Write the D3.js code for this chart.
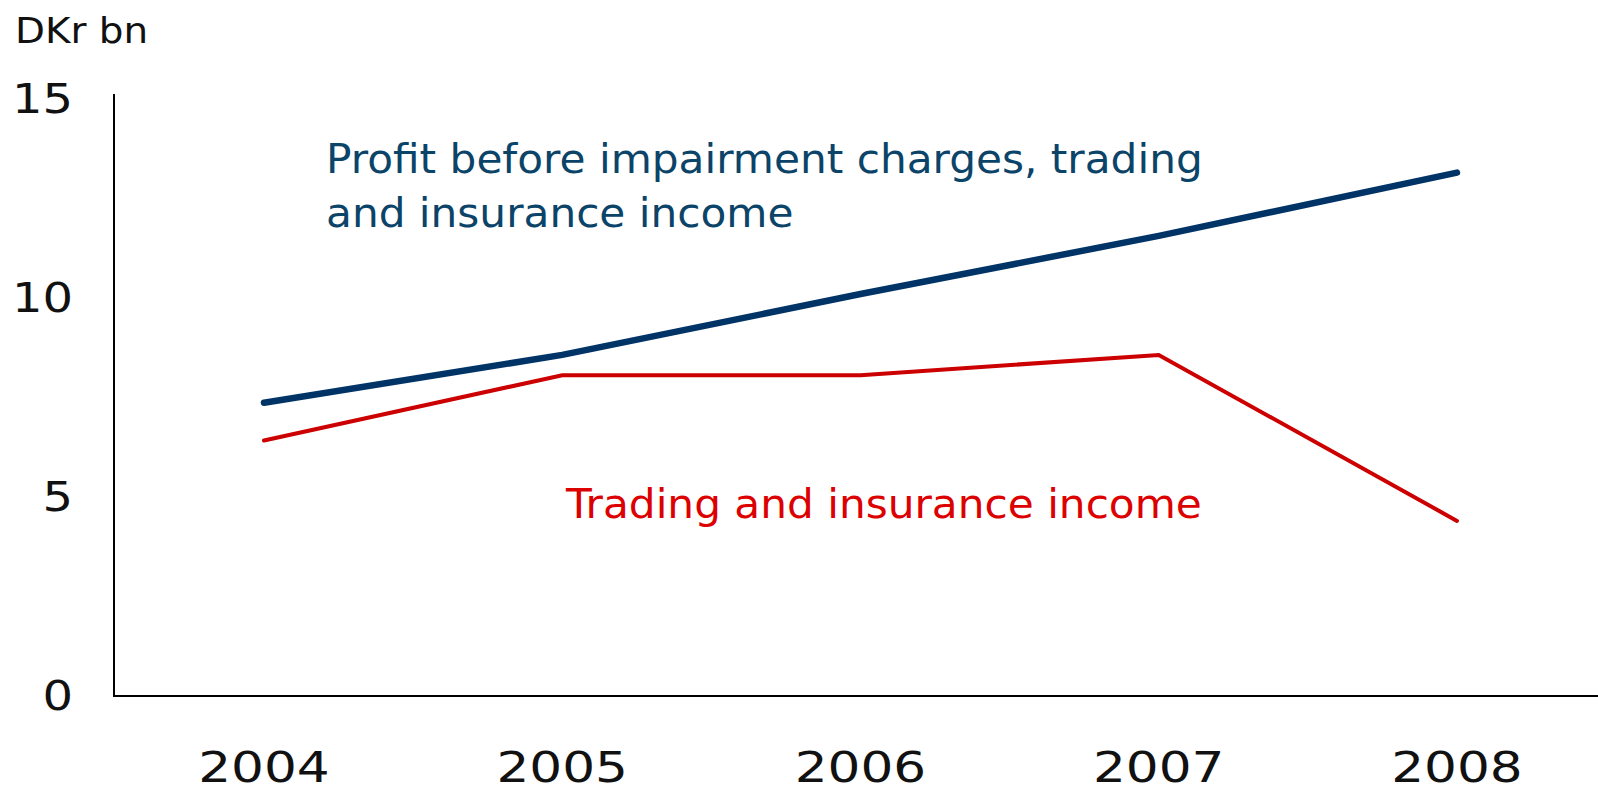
<!DOCTYPE html>
<html>
<head>
<meta charset="utf-8">
<script src="https://cdn.jsdelivr.net/npm/d3@7"></script>
<style>
  html, body { margin: 0; padding: 0; background: #fff; }
  svg { display: block; }
  text { font-family: "DejaVu Sans", sans-serif; }
</style>
</head>
<body>
<svg id="chart" width="1598" height="788"></svg>
<script>
// ---- data ----
const years = ["2004", "2005", "2006", "2007", "2008"];
const profitBeforeImpairment = [7.37, 8.57, 10.1, 11.56, 13.15];
const tradingInsurance = [6.42, 8.06, 8.06, 8.57, 4.4];
const yTicks = [0, 5, 10, 15];
const unitLabel = "DKr bn";
const profitLabel = ["Profit before impairment charges, trading", "and insurance income"];
const tradingLabel = "Trading and insurance income";

// ---- layout ----
const W = 1598, H = 788;
const axisX = 114, axisBottom = 696, axisTop = 94;
const svg = d3.select("#chart");

const x = d3.scalePoint().domain(years).range([264, 1457]);
const y = d3.scaleLinear().domain([0, 15]).range([axisBottom, axisBottom - 15 * 39.8]);

// widen glyphs to mimic the reference's broad typeface
function widen(sel, f) {
  sel.each(function() {
    const len = this.getComputedTextLength();
    d3.select(this).attr("textLength", len * f).attr("lengthAdjust", "spacingAndGlyphs");
  });
}

// axes lines
svg.append("line").attr("x1", axisX).attr("x2", axisX).attr("y1", axisTop).attr("y2", axisBottom)
  .attr("stroke", "#000").attr("stroke-width", 2);
svg.append("line").attr("x1", axisX - 1).attr("x2", W).attr("y1", axisBottom).attr("y2", axisBottom)
  .attr("stroke", "#000").attr("stroke-width", 2);

// y tick labels
svg.selectAll(".ytick").data(yTicks).join("text")
  .attr("class", "ytick")
  .attr("x", 73).attr("y", d => y(d))
  .attr("dy", "0.36em")
  .attr("text-anchor", "end")
  .attr("font-size", 40)
  .attr("fill", "#111")
  .text(d => d)
  .call(widen, 1.2);

// x tick labels
svg.selectAll(".xtick").data(years).join("text")
  .attr("class", "xtick")
  .attr("x", d => x(d)).attr("y", 782)
  .attr("text-anchor", "middle")
  .attr("font-size", 42)
  .attr("fill", "#111")
  .text(d => d)
  .call(widen, 1.23);

// unit label
svg.append("text").attr("x", 15).attr("y", 43).attr("font-size", 36).attr("fill", "#111").text(unitLabel)
  .call(widen, 1.08);

// lines
const line = d3.line().x((d, i) => x(years[i])).y(d => y(d));
svg.append("path").datum(tradingInsurance)
  .attr("d", line).attr("fill", "none")
  .attr("stroke", "#cc0000").attr("stroke-width", 4)
  .attr("stroke-linecap", "round").attr("stroke-linejoin", "miter");
svg.append("path").datum(profitBeforeImpairment)
  .attr("d", line).attr("fill", "none")
  .attr("stroke", "#003366").attr("stroke-width", 6.5)
  .attr("stroke-linecap", "round").attr("stroke-linejoin", "miter");

// series labels
svg.selectAll(".plabel").data(profitLabel).join("text")
  .attr("class", "plabel")
  .attr("x", 326).attr("y", (d, i) => 173 + i * 54)
  .attr("font-size", 41)
  .attr("fill", "#0b4468")
  .text(d => d)
  .call(widen, 1.03);
svg.append("text").attr("x", 566).attr("y", 518)
  .attr("font-size", 41).attr("fill", "#dd0000").text(tradingLabel)
  .call(widen, 1.03);
</script>
</body>
</html>
